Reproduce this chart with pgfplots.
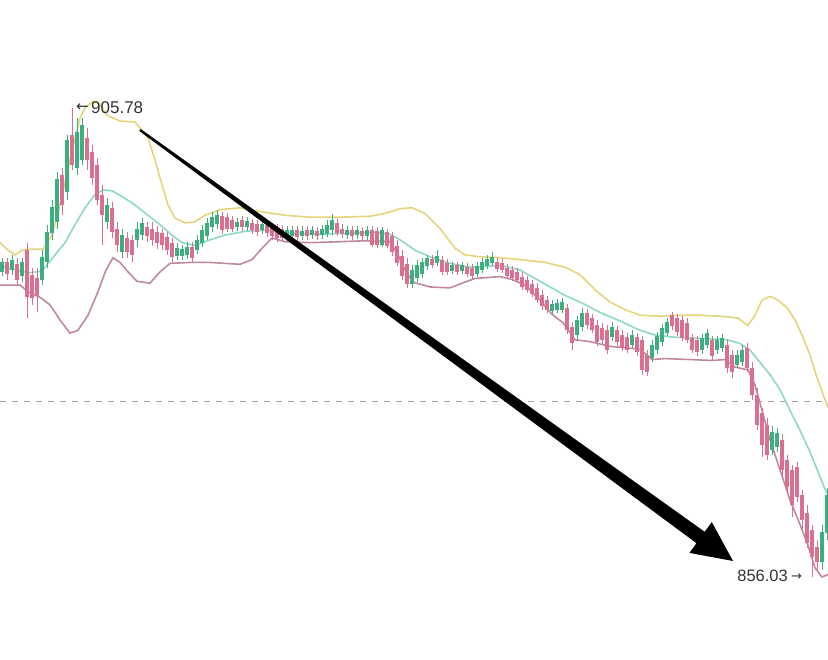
\documentclass[border=0pt]{standalone}
\usepackage{pgfplots}
\usepackage{pgfplotstable}
\pgfplotsset{compat=1.18}
\usepackage{fontspec}
\setmainfont{Liberation Sans}
\newfontfamily\dejavu{DejaVu Sans}
\definecolor{cup}{HTML}{E4D47C}
\definecolor{cmid}{HTML}{8ED8C8}
\definecolor{clow}{HTML}{C0889E}
\definecolor{cgreen}{HTML}{3DAE7E}
\definecolor{cred}{HTML}{DB6F8F}
\definecolor{ctext}{HTML}{333333}

\pgfplotstableread{
x o c h l
2 888.4 889.4 889.9 888.0
7 889.4 888.2 889.9 887.5
12 888.6 889.7 890.2 888.1
17 889.2 887.5 889.9 887.0
22 888.0 889.4 889.9 887.3
27 890.7 885.7 891.5 883.5
32 888.1 885.6 888.8 884.9
37 887.7 885.8 888.8 884.1
42 887.5 890.0 890.7 887.0
47 889.4 892.6 893.4 888.8
52 892.5 895.3 896.0 891.8
57 893.7 898.2 899.0 893.0
62 898.7 895.5 899.4 894.4
67 896.9 902.4 902.9 896.0
72 902.9 899.7 905.78 899.2
77 899.4 903.2 904.7 898.7
82 900.3 904.0 904.7 899.7
87 902.6 900.3 903.7 899.2
92 901.1 898.4 901.9 897.6
97 899.7 896.0 900.5 895.5
102 896.6 894.4 897.6 891.2
107 893.7 895.5 896.2 893.0
112 895.2 892.6 895.8 892.0
117 893.0 891.2 893.7 890.5
122 890.5 892.3 893.0 889.9
127 892.0 890.5 892.6 889.9
132 891.8 890.2 892.3 889.4
137 891.8 893.0 893.7 891.0
142 892.3 893.6 894.1 891.8
147 893.2 892.2 893.7 891.6
152 893.0 891.8 893.7 891.1
157 892.6 891.5 893.3 890.8
162 892.5 891.2 893.0 890.7
167 892.1 890.7 892.6 890.2
172 891.5 890.0 892.0 889.4
177 890.1 890.9 891.5 889.7
182 890.1 890.8 891.3 889.7
187 890.2 891.0 891.6 889.8
192 891.0 889.9 891.6 889.4
197 890.7 891.8 892.3 890.3
202 891.5 892.8 893.4 891.0
207 892.2 893.6 894.1 891.8
212 893.2 894.2 894.8 892.6
217 893.5 894.4 895.0 893.0
222 894.3 892.8 894.8 892.4
227 894.2 893.0 894.6 892.6
232 893.9 893.0 894.3 892.6
237 893.2 893.7 894.1 892.7
242 893.9 893.2 894.3 892.7
247 893.2 893.8 894.2 892.7
252 893.6 892.8 894.0 892.4
257 893.5 892.6 893.9 892.2
262 892.8 893.5 893.9 892.4
267 893.4 892.5 893.8 892.1
272 893.2 892.2 893.6 891.8
277 893.0 892.0 893.5 891.6
282 892.9 892.0 893.4 891.6
287 892.1 892.8 893.3 891.7
292 892.2 892.8 893.3 891.8
297 892.8 892.1 893.3 891.7
302 892.2 892.7 893.3 891.8
307 892.8 892.2 893.3 891.8
312 892.3 892.8 893.3 891.9
317 892.7 892.2 893.2 891.8
322 892.3 892.9 893.4 891.9
327 892.4 893.4 893.9 892.1
332 892.8 893.9 894.5 892.3
337 893.6 892.5 894.0 892.2
342 893.0 892.4 893.5 892.0
347 892.3 892.8 893.3 891.9
352 892.8 892.2 893.3 891.8
357 892.3 892.8 893.3 891.9
362 892.7 892.2 893.2 891.8
367 892.2 892.8 893.3 891.8
372 892.8 891.3 893.3 891.0
377 892.7 891.2 893.2 890.9
382 891.3 892.8 893.2 891.0
387 892.6 891.1 893.0 890.9
392 892.2 890.5 892.6 890.1
397 891.1 889.3 891.8 889.0
402 890.1 888.0 890.7 887.5
407 889.2 887.1 889.9 886.7
412 887.1 888.6 889.1 886.7
417 887.7 889.1 889.7 887.3
422 888.2 889.4 889.9 887.7
427 889.0 889.9 890.2 888.6
432 889.8 889.1 890.2 888.8
437 889.3 890.1 890.7 889.0
442 889.7 888.4 890.1 888.1
447 889.3 888.4 889.8 888.1
452 888.5 889.1 889.4 888.2
457 889.1 888.4 889.4 888.1
462 888.5 889.1 889.4 888.2
467 888.9 888.2 889.3 887.9
472 888.8 888.0 889.2 887.6
477 888.2 889.0 889.4 887.9
482 888.6 889.4 889.9 888.3
487 889.0 889.8 890.2 888.7
492 889.3 890.0 890.5 889.0
497 889.4 888.7 889.9 888.4
502 889.3 888.6 889.8 888.3
507 888.8 888.0 889.2 887.6
512 888.6 887.7 889.0 887.4
517 888.4 887.5 888.8 887.2
522 887.9 886.8 888.4 886.5
527 887.5 886.5 888.0 886.2
532 887.1 886.1 887.5 885.7
537 886.7 885.4 887.2 885.1
542 885.9 884.8 886.5 884.4
547 885.4 884.4 885.8 884.0
552 884.3 885.0 885.4 883.9
557 884.4 885.1 885.5 884.0
562 884.4 885.2 885.6 884.0
567 884.6 882.2 885.0 881.8
572 882.6 880.9 883.1 880.1
577 881.7 883.3 883.7 881.2
582 882.6 884.0 884.6 882.1
587 884.0 882.8 884.5 882.3
592 883.5 882.2 883.9 881.9
597 882.8 881.0 883.3 880.5
602 882.4 881.2 883.0 880.8
607 882.2 880.1 882.8 879.7
612 881.5 882.6 883.1 881.1
617 882.2 881.0 882.7 880.5
622 881.7 880.3 882.2 880.0
627 881.5 880.1 881.9 879.8
632 880.6 881.7 882.2 880.3
637 881.5 879.9 881.9 879.5
642 881.2 878.0 881.6 877.5
647 879.6 877.8 880.1 877.4
652 879.3 880.6 881.2 878.8
657 880.1 881.6 882.0 879.7
662 881.0 882.4 882.9 880.5
667 881.9 883.1 883.5 881.6
672 883.8 882.7 884.1 882.2
677 883.5 882.0 883.9 881.6
682 883.3 881.4 883.7 881.1
687 883.0 881.2 883.5 880.9
692 881.4 880.1 881.8 879.8
697 881.2 879.9 881.6 879.5
702 880.1 881.4 881.8 879.7
707 880.6 881.9 882.3 880.3
712 881.2 879.5 881.6 879.1
717 880.1 881.2 881.6 879.7
722 880.3 881.4 881.8 879.9
727 880.6 878.2 881.2 877.7
732 879.6 877.8 880.1 877.1
737 878.5 879.6 880.1 878.2
742 878.8 880.1 880.6 878.4
747 880.3 878.2 880.9 877.8
752 878.2 875.3 878.8 874.8
757 875.3 872.2 876.1 871.6
762 873.4 870.0 874.0 868.8
767 872.2 869.0 872.9 868.4
772 869.5 871.4 872.0 869.0
777 869.8 871.3 871.8 869.3
782 870.6 867.4 871.2 866.5
787 868.4 865.6 869.0 865.0
792 867.4 863.7 867.9 862.4
797 867.7 864.5 868.2 864.0
802 864.7 862.1 865.3 861.0
807 862.8 859.6 863.7 859.1
812 861.0 858.2 861.6 856.03
817 859.2 857.6 860.0 856.8
822 857.6 860.8 861.6 856.8
827 860.7 864.7 865.5 860.0
}\candles

\begin{document}
\begin{tikzpicture}
\begin{axis}[
  width=828pt, height=660pt, scale only axis, hide axis,
  xmin=0, xmax=828, ymin=847.23, ymax=917.24, clip=true,
]
% dashed reference line
\addplot[color=gray!70, dash pattern=on 6pt off 6pt, line width=1pt, forget plot]
  coordinates {(0,874.70) (828,874.70)};

% Bollinger bands
\addplot[color=cup, line width=1.6pt, forget plot] coordinates {
(0,891.5) (8,890.7) (15,890.2) (22,890.7) (30,890.8) (43,890.8) (52,892.3)
(60,895.5) (70,900.3) (80,904.7) (85,905.78) (93,906.5) (100,906.2) (107,905.0)
(120,904.4) (135,904.3) (142,903.4) (148,902.6) (155,900.3) (162,897.6) (168,895.5)
(175,894.1) (185,893.6) (195,893.7) (205,894.4) (220,895.0) (240,895.2) (260,894.8)
(285,894.4) (310,894.2) (340,894.2) (370,894.3) (385,894.6) (400,895.1) (412,895.2)
(425,894.6) (440,893.0) (455,890.9) (465,890.2) (480,890.0) (500,889.9) (520,889.7)
(545,889.4) (565,888.9) (580,888.1) (595,886.5) (610,885.2) (625,884.4) (640,883.8)
(660,883.7) (680,883.8) (700,883.8) (720,883.7) (738,883.5) (748,882.7) (755,883.8)
(762,885.4) (770,885.8) (778,885.4) (787,884.6) (795,883.3) (802,881.7) (810,879.6)
(816,877.5) (822,875.7) (828,874.0)};
\addplot[color=cmid, line width=1.6pt, forget plot] coordinates {
(0,889.1) (15,888.6) (30,888.3) (42,888.5) (55,890.2) (65,891.5) (75,893.4)
(85,895.2) (95,896.6) (103,897.1) (112,897.0) (122,896.4) (135,895.5) (148,894.4)
(160,893.4) (172,892.3) (182,891.5) (195,891.2) (210,891.8) (225,892.3) (245,892.7)
(265,892.8) (290,892.5) (320,892.4) (350,892.5) (375,892.6) (390,892.4) (400,891.8)
(415,890.7) (430,890.0) (450,889.3) (470,888.9) (490,889.0) (505,889.0) (520,888.6)
(535,887.7) (550,886.8) (565,885.9) (580,885.2) (600,884.1) (620,883.2) (640,882.2)
(655,881.7) (670,881.5) (690,881.4) (710,881.3) (727,881.2) (740,880.8) (750,880.1)
(760,878.8) (770,877.5) (780,875.9) (790,873.7) (800,871.6) (810,869.3) (818,867.2)
(824,865.6) (828,864.7)};
\addplot[color=clow, line width=1.6pt, forget plot] coordinates {
(0,887.0) (20,887.0) (28,886.3) (40,885.7) (50,884.9) (60,883.3) (70,881.9)
(78,882.2) (88,883.8) (98,886.3) (106,888.6) (113,889.9) (120,889.4) (128,888.4)
(137,887.4) (150,887.2) (160,888.4) (170,889.3) (190,889.4) (210,889.4) (240,889.2)
(252,889.7) (262,890.9) (272,892.0) (285,891.6) (310,891.5) (340,891.6) (365,891.7)
(390,891.6) (398,890.2) (405,888.6) (413,887.3) (430,886.8) (450,886.7) (462,887.2)
(475,887.7) (500,887.9) (512,887.6) (525,887.0) (540,885.4) (552,883.9) (563,883.0)
(575,881.2) (590,881.0) (610,880.5) (640,880.2) (652,879.1) (665,879.2) (690,879.1)
(712,879.0) (725,879.1) (735,878.3) (748,878.0) (755,876.4) (762,873.7) (770,870.6)
(780,867.4) (790,864.2) (800,861.6) (808,859.4) (815,857.0) (822,856.03) (828,856.3)};

% candles: green (close >= open)
\addplot[draw=none, mark=none, forget plot,
  error bars/.cd, y dir=plus, y explicit, error mark=none,
  error bar style={draw=cgreen, line width=1pt}]
  table[x expr={\thisrow{c}>=\thisrow{o} ? \thisrow{x} : nan}, y=l,
        y error plus expr={\thisrow{h}-\thisrow{l}}] {\candles};
\addplot[draw=none, mark=none, forget plot,
  error bars/.cd, y dir=plus, y explicit, error mark=none,
  error bar style={draw=cgreen, line width=3.2pt}]
  table[x expr={\thisrow{c}>=\thisrow{o} ? \thisrow{x} : nan}, y=o,
        y error plus expr={\thisrow{c}-\thisrow{o}}] {\candles};
% candles: red (close < open)
\addplot[draw=none, mark=none, forget plot,
  error bars/.cd, y dir=plus, y explicit, error mark=none,
  error bar style={draw=cred, line width=1pt}]
  table[x expr={\thisrow{c}<\thisrow{o} ? \thisrow{x} : nan}, y=l,
        y error plus expr={\thisrow{h}-\thisrow{l}}] {\candles};
\addplot[draw=none, mark=none, forget plot,
  error bars/.cd, y dir=plus, y explicit, error mark=none,
  error bar style={draw=cred, line width=3.2pt}]
  table[x expr={\thisrow{c}<\thisrow{o} ? \thisrow{x} : nan}, y=c,
        y error plus expr={\thisrow{o}-\thisrow{c}}] {\candles};
\end{axis}

% annotation arrow (pixel-based: x, 660 - y)
\fill[black] (139.3pt,529.0pt) -- (140.7pt,531.0pt) -- (704.7pt,128.2pt)
  -- (711.8pt,137.9pt) -- (733pt,99pt) -- (689.4pt,107.1pt)
  -- (696.5pt,116.8pt) -- cycle;

% labels
\node[anchor=east, inner sep=0pt, text=ctext] at (89pt,552pt) {\fontsize{15}{18}\selectfont\dejavu ←};
\node[anchor=west, inner sep=0pt, text=ctext] at (91pt,552pt) {\fontsize{17}{20}\selectfont 905.78};
\node[anchor=east, inner sep=0pt, text=ctext] at (788pt,84pt) {\fontsize{16.5}{20}\selectfont 856.03};
\node[anchor=west, inner sep=0pt, text=ctext] at (791pt,83pt) {\fontsize{13}{16}\selectfont\dejavu →};

\pgfresetboundingbox
\path[use as bounding box] (0,0) rectangle (828pt,660pt);
\end{tikzpicture}
\end{document}
